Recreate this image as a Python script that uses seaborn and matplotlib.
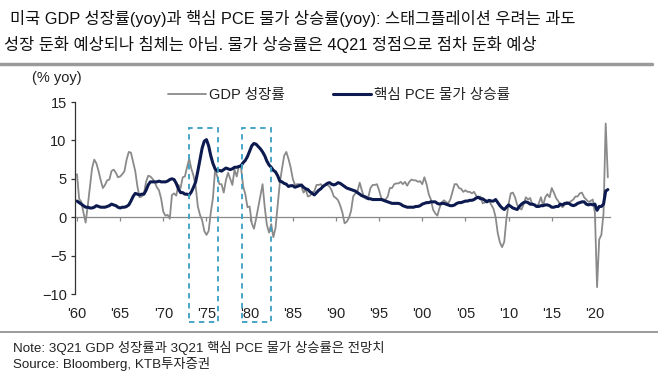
import numpy as np
import pandas as pd
import matplotlib
matplotlib.use("Agg")
import matplotlib.pyplot as plt
import matplotlib.patches as mpatches
import seaborn as sns

# ---------------------------------------------------------------
# data: quarterly, 1960Q1 ~ 2021Q3 (yoy %)
# ---------------------------------------------------------------
gdp_yoy = [
    5.6, 2.4, 2.0, 0.6,   -0.7, 1.5, 3.9, 6.4,   7.5, 7.0, 6.0, 4.8,   3.8, 4.2, 4.8, 4.9,
    6.0, 6.2, 5.8, 5.2,   5.3, 5.6, 6.0, 7.5,    8.5, 8.4, 7.2, 6.0,   4.0, 2.6, 2.7, 3.0,
    4.6, 5.4, 5.3, 5.0,   4.6, 3.9, 3.5, 2.4,    # 1960s
    0.7, 0.2, 0.3, -0.2,  2.9, 3.1, 2.8, 4.2,   3.8, 5.2, 5.3, 6.5,   7.6, 6.3, 5.4, 4.0,
    1.4, 0.3, -0.4, -1.8, -2.3, -1.8, 0.6, 2.5, 6.2, 5.3, 4.3, 4.3,   3.2, 4.8, 5.8, 5.0,
    4.2, 6.2, 5.3, 6.6,   6.5, 4.0, 3.0, 1.3,    # 1970s
    1.4, -0.8, -1.5, -0.2, 1.3, 2.8, 4.3, 1.3,  -1.0, -2.0, -0.9, -2.6, -1.4, 1.5, 4.5, 6.3,
    8.0, 8.5, 7.6, 6.5,   5.0, 4.2, 4.3, 4.3,    4.0, 3.2, 3.6, 2.7,   2.8, 3.2, 3.4, 4.2,
    4.2, 4.3, 4.0, 4.2,   4.2, 4.0, 3.5, 2.7,    # 1980s
    2.5, 2.2, 1.5, 0.6,   -0.8, -0.6, -0.1, 0.8, 2.7, 3.1, 3.4, 4.5,   3.5, 2.6, 2.4, 2.6,
    3.8, 4.2, 4.2, 4.3,   3.5, 2.5, 2.3, 2.3,    2.7, 3.8, 3.8, 4.3,   4.4, 4.4, 4.6, 4.3,
    4.6, 4.1, 4.6, 4.9,   4.8, 4.8, 4.6, 4.7,    # 1990s
    4.3, 5.2, 4.3, 3.0,   2.3, 1.0, 0.5, 0.2,    1.2, 1.9, 2.2, 2.0,   1.8, 2.3, 3.3, 4.3,
    4.3, 3.8, 3.7, 3.3,   3.5, 3.3, 3.3, 3.1,    3.3, 2.8, 2.5, 2.7,   1.8, 1.9, 2.2, 2.1,
    1.6, 1.1, 0.0, -2.1,  -3.3, -3.9, -3.2, -0.2,  # 2000s
    1.7, 3.1, 3.2, 2.6,   1.6, 1.2, 1.0, 1.7,    2.6, 2.3, 2.5, 1.6,   1.6, 1.3, 1.8, 2.6,
    1.5, 2.6, 3.0, 2.6,   3.8, 3.2, 2.5, 2.1,    1.6, 1.3, 1.6, 2.0,   1.9, 2.1, 2.3, 2.7,
    2.7, 3.1, 3.2, 2.6,   2.3, 2.0, 2.1, 2.3,    # 2010s
    0.6, -9.1, -2.9, -2.3, 0.5, 12.2, 5.2,
]

core_pce_yoy = [
    2.1, 1.9, 1.7, 1.5,   1.3, 1.3, 1.2, 1.2,    1.3, 1.5, 1.4, 1.3,   1.3, 1.3, 1.4, 1.5,
    1.7, 1.6, 1.5, 1.3,   1.2, 1.3, 1.3, 1.4,    1.6, 2.1, 2.7, 3.1,   3.0, 2.9, 3.0, 3.0,
    3.5, 4.2, 4.6, 4.6,   4.6, 4.6, 4.7, 4.6,    # 1960s
    4.6, 4.6, 4.7, 4.9,   5.0, 4.9, 4.4, 3.7,    3.2, 3.2, 3.0, 3.0,   2.9, 3.3, 3.9, 4.6,
    6.0, 7.5, 9.0, 9.9,   10.1, 9.3, 8.0, 7.0,   6.3, 6.0, 6.1, 6.0,   6.2, 6.4, 6.3, 6.2,
    6.3, 6.5, 6.5, 6.6,   6.7, 7.1, 7.4, 7.9,    # 1970s
    8.6, 9.3, 9.6, 9.5,   9.2, 8.9, 8.5, 8.0,    7.3, 6.8, 6.5, 6.1,   5.9, 5.4, 4.7, 4.6,
    4.4, 4.3, 4.0, 4.1,   4.1, 3.9, 4.0, 4.1,    4.2, 3.9, 3.7, 3.6,   3.3, 3.1, 2.9, 3.2,
    3.5, 3.7, 4.0, 4.2,   4.4, 4.5, 4.3, 4.2,    # 1980s
    4.3, 4.5, 4.4, 4.2,   4.0, 3.8, 3.7, 3.6,    3.5, 3.4, 3.2, 3.0,   2.8, 2.7, 2.6, 2.4,
    2.4, 2.3, 2.3, 2.3,   2.3, 2.3, 2.2, 2.1,    2.0, 1.9, 1.8, 1.8,   1.8, 1.8, 1.7, 1.5,
    1.4, 1.3, 1.3, 1.3,   1.3, 1.4, 1.4, 1.5,    # 1990s
    1.7, 1.8, 1.9, 1.9,   2.0, 2.0, 2.0, 1.8,    1.7, 1.8, 1.8, 1.7,   1.6, 1.5, 1.5, 1.6,
    1.8, 1.9, 1.9, 2.0,   2.1, 2.1, 2.2, 2.2,    2.3, 2.5, 2.6, 2.4,   2.4, 2.2, 2.0, 2.2,
    2.1, 2.1, 2.3, 1.9,   1.5, 1.2, 1.0, 1.3,    # 2000s
    1.6, 1.4, 1.2, 1.1,   1.0, 1.4, 1.7, 1.9,    2.0, 1.9, 1.7, 1.7,   1.6, 1.4, 1.4, 1.5,
    1.5, 1.6, 1.6, 1.5,   1.3, 1.3, 1.4, 1.4,    1.7, 1.6, 1.8, 1.8,   1.8, 1.6, 1.5, 1.6,
    1.8, 1.9, 2.0, 2.0,   1.7, 1.6, 1.7, 1.6,    # 2010s
    1.7, 0.9, 1.4, 1.4,   1.7, 3.4, 3.6,
]

quarters = pd.period_range("1960Q1", "2021Q3", freq="Q")
tick_years = list(range(1960, 2021, 5))
tick_labels = ["'60", "'65", "'70", "'75", "'80", "'85", "'90", "'95",
               "'00", "'05", "'10", "'15", "'20"]
# stagflation-worry periods highlighted with dashed boxes
box_periods = [(1973.0, 1976.3), (1979.1, 1982.5)]

df = pd.DataFrame({
    "t": quarters.year + (quarters.quarter - 1) / 4,
    "GDP 성장률": gdp_yoy,
    "핵심 PCE 물가 상승률": core_pce_yoy,
})

# ---------------------------------------------------------------
# plot
# ---------------------------------------------------------------
sns.set_style("white")
plt.rcParams["font.family"] = ["Liberation Sans", "Noto Sans CJK KR", "DejaVu Sans"]

fig = plt.figure(figsize=(6.58, 3.8), dpi=100)
ax = fig.add_axes([75 / 658, 1 - 294 / 380, 535 / 658, 192 / 380])

sns.lineplot(data=df, x="t", y="GDP 성장률", ax=ax, color="#8a8a8a",
             linewidth=1.3, label="GDP 성장률")
sns.lineplot(data=df, x="t", y="핵심 PCE 물가 상승률", ax=ax, color="#0c1a4f",
             linewidth=2.2, label="핵심 PCE 물가 상승률")

ax.set_xlim(1959.77, 2021.75)
ax.set_ylim(-10, 15)
ax.set_yticks([-10, -5, 0, 5, 10, 15])
ax.set_xticks(tick_years, tick_labels)
ax.set_xlabel("")
ax.set_ylabel("")

for s in ["top", "right", "bottom"]:
    ax.spines[s].set_visible(False)
ax.spines["left"].set_color("#333333")
ax.spines["left"].set_linewidth(0.9)
ax.tick_params(axis="y", direction="out", length=3, width=0.9, color="#333333",
               labelsize=10.5, labelcolor="#222222", pad=3, left=True)
ax.tick_params(axis="x", length=0, labelsize=10.5, labelcolor="#222222", pad=9)

# zero line with small ticks
sec = ax.secondary_xaxis(0.4)
sec.set_xticks(tick_years, [""] * len(tick_years))
sec.spines["bottom"].set_color("#888888")
sec.spines["bottom"].set_linewidth(0.9)
sec.tick_params(axis="x", direction="out", length=3, width=0.9, color="#888888")

# dashed highlight boxes
for x0, x1 in box_periods:
    rect = mpatches.Rectangle((x0, -13.6), x1 - x0, 11.6 + 13.6, fill=False,
                              edgecolor="#3a9fc3", linewidth=1.3,
                              linestyle=(0, (3, 2.5)), clip_on=False, zorder=5)
    ax.add_patch(rect)

leg = ax.legend(loc="center left", bbox_to_anchor=(168 / 658, 1 - 95 / 380),
                bbox_transform=fig.transFigure, ncol=2, frameon=False,
                fontsize=10.5, handlelength=2.6, handletextpad=0.2,
                columnspacing=3.3, borderpad=0, borderaxespad=0)
for t in leg.get_texts():
    t.set_color("#222222")

# titles / annotations
fig.text(10 / 658, 1 - 18 / 380,
         "미국 GDP 성장률(yoy)과 핵심 PCE 물가 상승률(yoy): 스태그플레이션 우려는 과도",
         fontsize=11.8, va="center", ha="left", color="#111111")
fig.text(4 / 658, 1 - 44 / 380,
         "성장 둔화 예상되나 침체는 아님. 물가 상승률은 4Q21 정점으로 점차 둔화 예상",
         fontsize=11.8, va="center", ha="left", color="#111111")
fig.text(57 / 658, 1 - 78 / 380, "(% yoy)", fontsize=10.5, ha="center",
         va="center", color="#222222")

fig.add_artist(plt.Line2D([0, 652 / 658], [1 - 64 / 380] * 2, color="#9a9a9a",
                          linewidth=2.5, transform=fig.transFigure))
fig.add_artist(plt.Line2D([0, 1], [1 - 332 / 380] * 2, color="#8a8a8a",
                          linewidth=1.2, transform=fig.transFigure))

fig.text(13 / 658, 1 - 348 / 380, "Note: 3Q21 GDP 성장률과 3Q21 핵심 PCE 물가 상승률은 전망치",
         fontsize=9.6, va="center", ha="left", color="#222222")
fig.text(13 / 658, 1 - 364 / 380, "Source: Bloomberg, KTB투자증권",
         fontsize=9.6, va="center", ha="left", color="#222222")

fig.savefig("out.png", dpi=100)
plt.close("all")
